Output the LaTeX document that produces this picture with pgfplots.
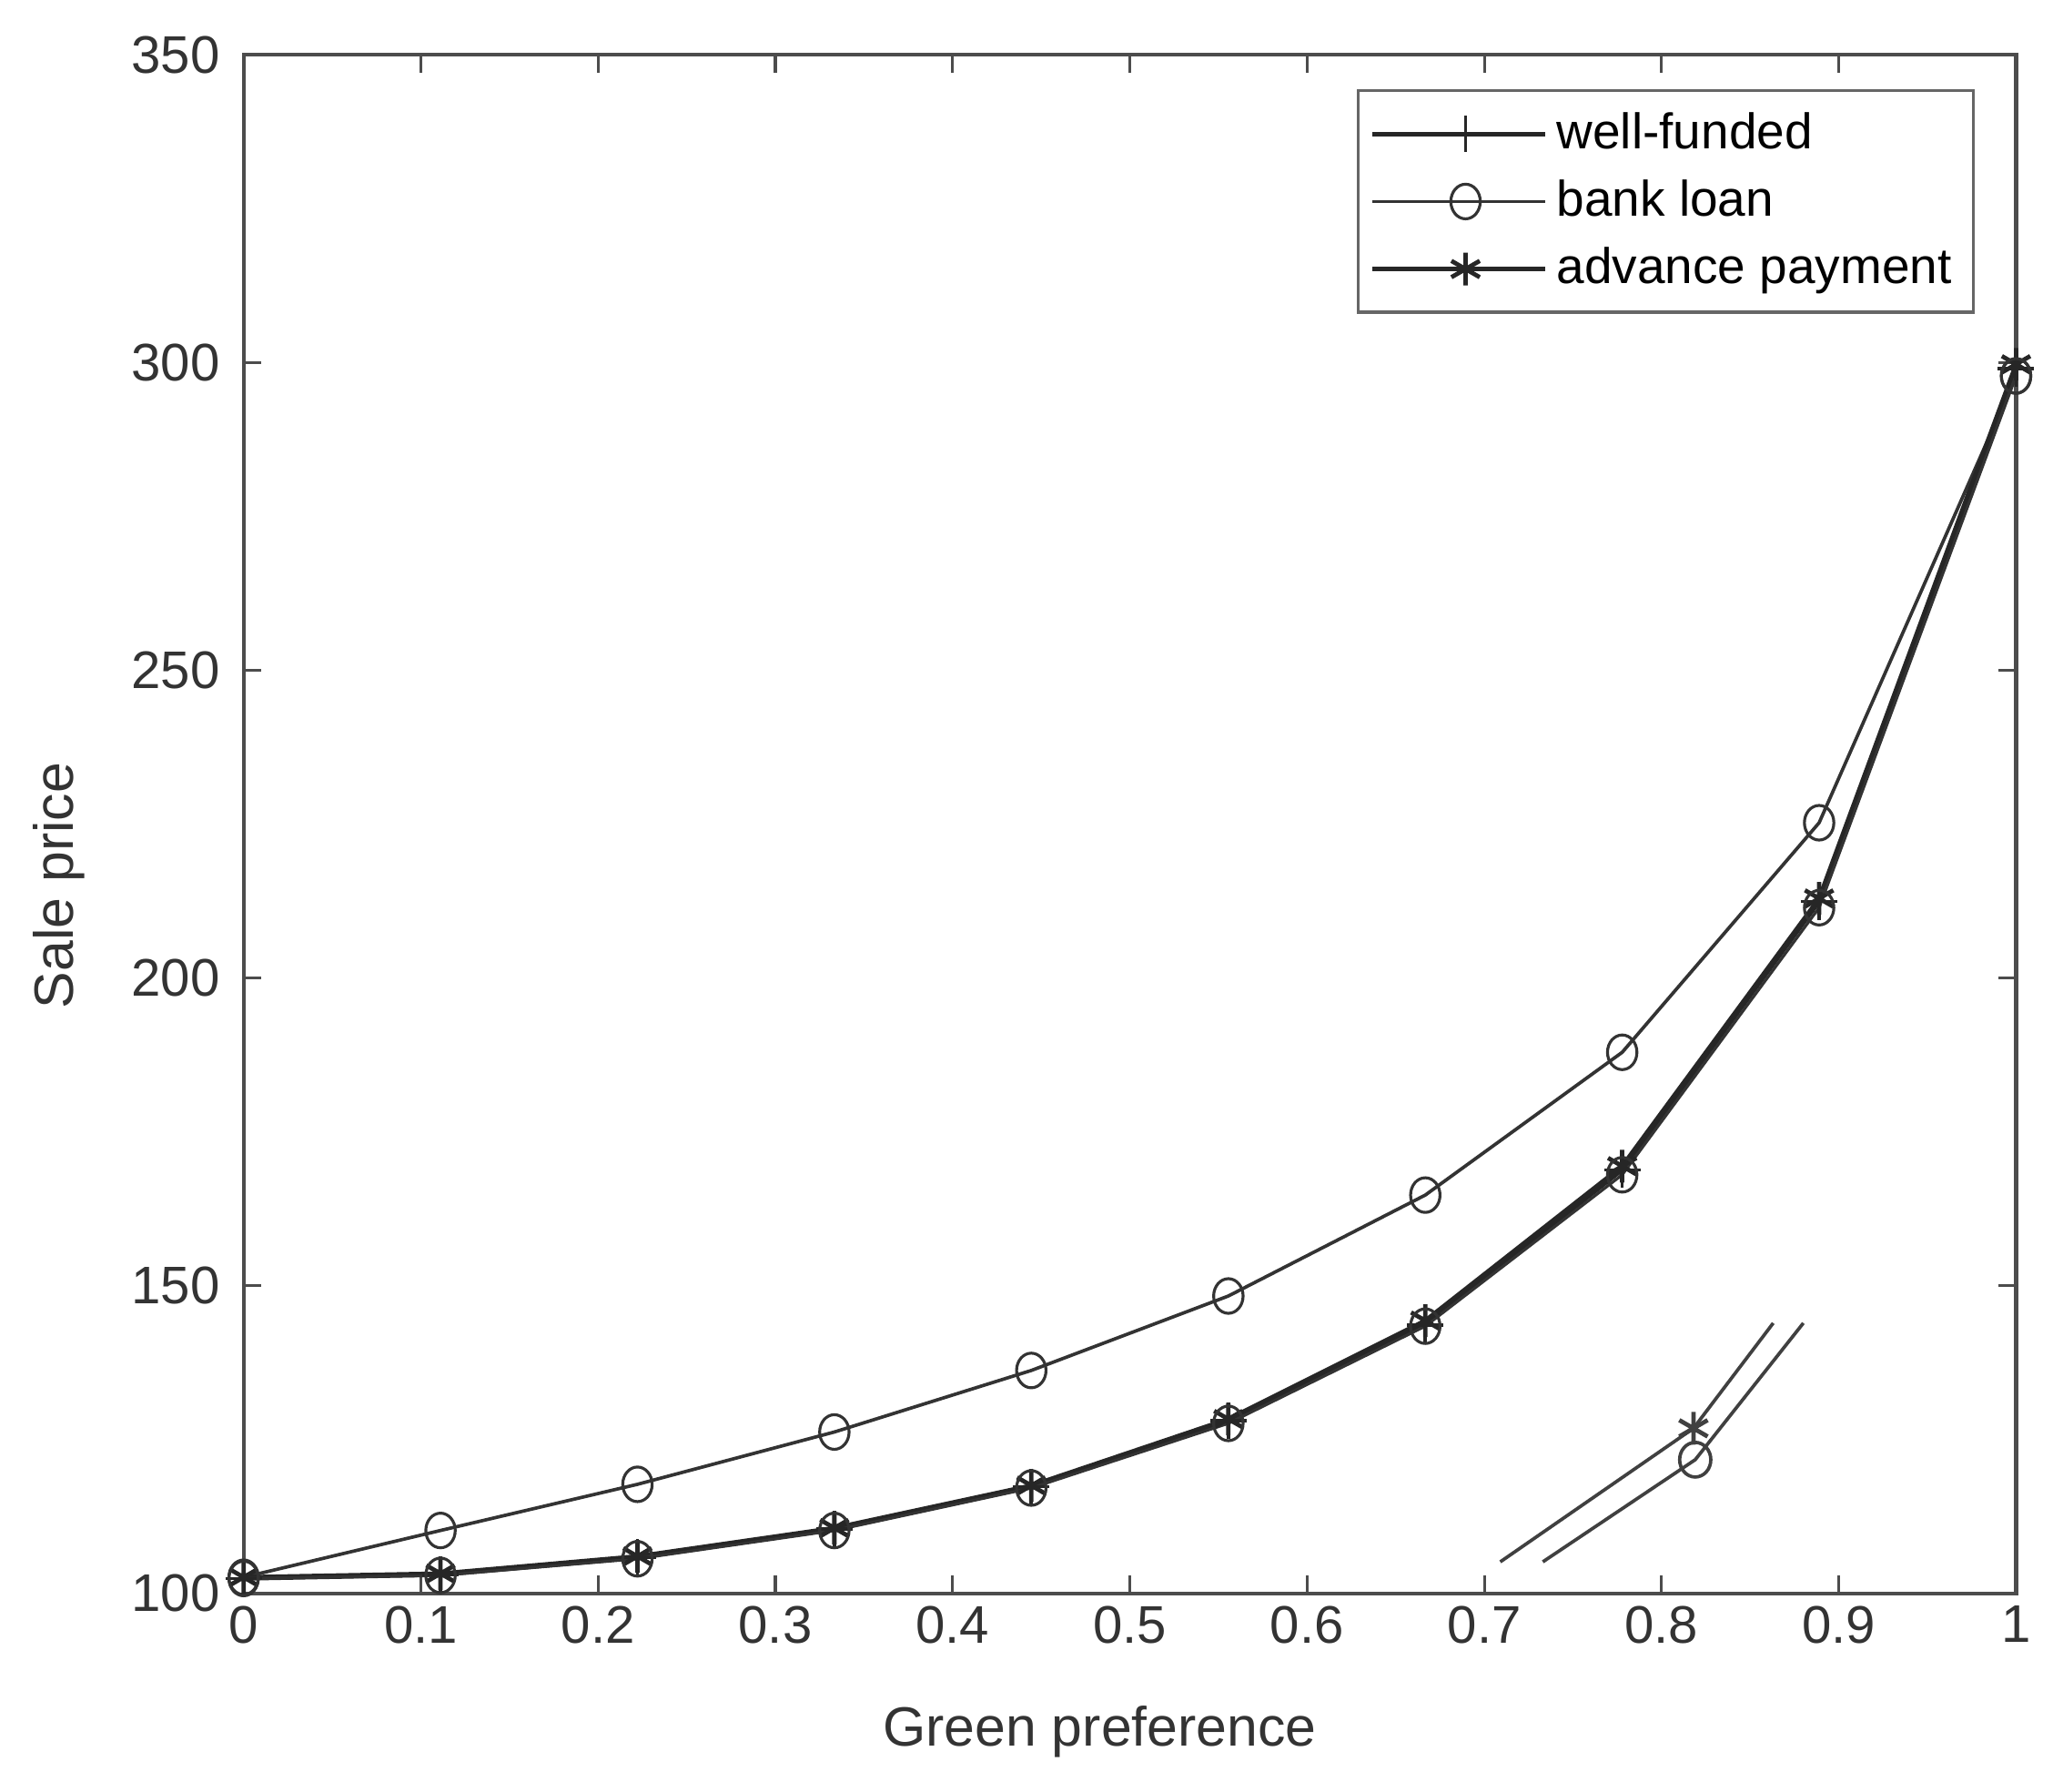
\documentclass[border=0pt]{standalone}
\usepackage{pgfplots}
\pgfplotsset{compat=1.18}
\usepackage{fontspec}
\setmainfont{Liberation Sans}

\begin{document}
\begin{tikzpicture}
\begin{axis}[
  at={(0,0)}, anchor=south west, scale only axis,
  width=12.95cm, height=11.24cm,
  xmin=0, xmax=1, ymin=100, ymax=350,
  xtick={0,0.1,0.2,0.3,0.4,0.5,0.6,0.7,0.8,0.9,1},
  xticklabels={0,0.1,0.2,0.3,0.4,0.5,0.6,0.7,0.8,0.9,1},
  ytick={100,150,200,250,300,350},
  yticklabels={100,150,200,250,300,350},
  tick align=inside, major tick length=0.13cm,
  tick style={black!70, line width=0.6pt},
  axis line style={black!70, line width=0.8pt},
  ticklabel style={font=\fontsize{11}{13}\selectfont, text=black!80},
  yticklabel style={xshift=-0.05cm},
  xticklabel style={yshift=0.03cm},
  every axis x label/.style={at={(axis description cs:0.483,-0.0899)}, anchor=center},
  every axis y label/.style={at={(axis description cs:-0.104,0.46)}, anchor=center, rotate=90},
  label style={font=\fontsize{11.5}{13}\selectfont, text=black!80},
  xlabel={Green preference}, ylabel={Sale price},
  clip=false,
  legend cell align=left,
  legend style={at={(1,1)}, anchor=north east, xshift=-0.3cm, yshift=-0.25cm,
    draw=black!60, line width=0.7pt, fill=white,
    font=\fontsize{10.4}{12}\selectfont, row sep=1pt, inner sep=2.5pt},
  legend image code/.code={\draw[mark repeat=2, mark phase=2, #1]
    plot coordinates {(0cm,0cm) (0.68cm,0cm) (1.26cm,0cm)};},
]
% well-funded
\addplot[black!85, line width=0.9pt, mark=+, mark size=3.8pt, mark options={line width=0.7pt}]
  coordinates {(0,102.4)(0.1111,103.0)(0.2222,105.8)(0.3333,110.4)(0.4444,117.3)
               (0.5556,128.0)(0.6667,143.6)(0.7778,168.8)(0.8889,212.4)(1,299.0)};
\addlegendentry{well-funded}
% bank loan
\addplot[black!80, line width=0.7pt, mark=o, mark size=3.6pt, mark options={xscale=0.85, line width=0.6pt}]
  coordinates {(0,102.6)(0.1111,110.2)(0.2222,117.7)(0.3333,126.2)(0.4444,136.2)
               (0.5556,148.3)(0.6667,164.7)(0.7778,187.9)(0.8889,225.2)(1,297.8)};
\addlegendentry{bank loan}
% advance payment
\addplot[black!85, line width=0.9pt, mark=asterisk, mark size=3.4pt, mark options={line width=0.9pt}]
  coordinates {(0,102.6)(0.1111,103.2)(0.2222,106.0)(0.3333,110.6)(0.4444,117.5)
               (0.5556,128.3)(0.6667,144.3)(0.7778,169.4)(0.8889,212.9)(1,299.7)};
\addlegendentry{advance payment}
% circles on the lower curve (no legend entry)
\addplot[black!80, line width=0.6pt, mark=o, mark size=3.6pt, mark options={xscale=0.85}, forget plot]
  coordinates {(0,102.4)(0.1111,102.9)(0.2222,105.6)(0.3333,110.2)(0.4444,117.1)
               (0.5556,127.6)(0.6667,143.4)(0.7778,168.0)(0.8889,211.4)(1,297.8)};
% small detail segments
\addplot[black!75, line width=0.7pt, mark=asterisk, mark indices={2}, mark size=3.4pt, mark options={line width=0.9pt}, forget plot]
  coordinates {(0.709,105.1)(0.818,126.8)(0.863,143.9)};
\addplot[black!75, line width=0.7pt, mark=o, mark indices={2}, mark size=3.6pt, mark options={xscale=0.9}, forget plot]
  coordinates {(0.733,105.1)(0.819,121.7)(0.880,143.9)};
\end{axis}
\path[use as bounding box] (-1.78,-1.45) rectangle (13.22,11.64);
\end{tikzpicture}
\end{document}
